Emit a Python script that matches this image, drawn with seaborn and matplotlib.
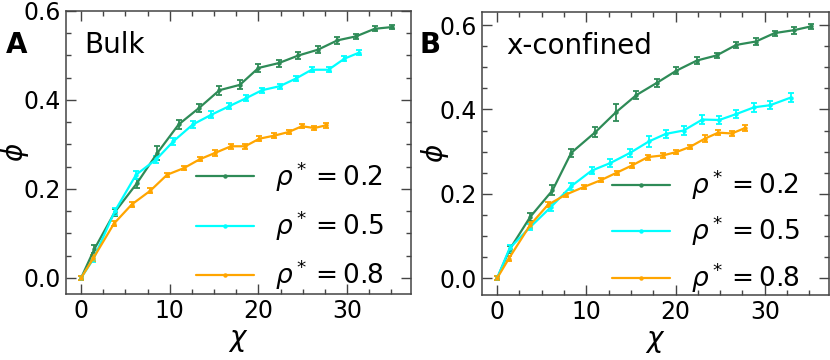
import matplotlib
matplotlib.use("Agg")
import matplotlib.pyplot as plt
import seaborn as sns
import numpy as np
import pandas as pd
from matplotlib.ticker import MultipleLocator, FormatStrFormatter

# ---------------- data ----------------
labels = [r"$\rho^*=0.2$", r"$\rho^*=0.5$", r"$\rho^*=0.8$"]
colors = ["#2e8b57", "#00ffff", "#ffa500"]

# Bulk (panel A)
bulk_x_02 = [0, 1.5, 3.8, 6.3, 8.6, 11.0, 13.3, 15.6, 17.9, 20.0, 22.3, 24.5, 26.7, 28.9, 31.0, 33.1, 35.1]
bulk_y_02 = [0.0, 0.065, 0.148, 0.213, 0.281, 0.345, 0.382, 0.422, 0.434, 0.472, 0.483, 0.500, 0.513, 0.534, 0.543, 0.560, 0.564]
bulk_e_02 = [0.005, 0.008, 0.008, 0.010, 0.016, 0.010, 0.010, 0.010, 0.010, 0.008, 0.008, 0.008, 0.008, 0.008, 0.006, 0.006, 0.004]

bulk_x_05 = [0, 1.4, 3.8, 6.2, 8.5, 10.4, 12.6, 14.7, 16.7, 18.6, 20.4, 22.4, 24.2, 26.0, 27.9, 29.7, 31.3]
bulk_y_05 = [0.0, 0.043, 0.150, 0.232, 0.267, 0.307, 0.345, 0.367, 0.386, 0.404, 0.422, 0.431, 0.448, 0.468, 0.468, 0.493, 0.506]
bulk_e_05 = [0.005, 0.007, 0.008, 0.009, 0.008, 0.008, 0.008, 0.008, 0.007, 0.007, 0.006, 0.006, 0.006, 0.006, 0.006, 0.006, 0.006]

bulk_x_08 = [0, 1.4, 3.7, 5.7, 7.8, 9.7, 11.6, 13.4, 15.1, 16.9, 18.5, 20.1, 21.8, 23.4, 24.9, 26.3, 27.6]
bulk_y_08 = [0.0, 0.045, 0.122, 0.165, 0.196, 0.232, 0.247, 0.267, 0.281, 0.296, 0.296, 0.313, 0.320, 0.328, 0.341, 0.337, 0.343]
bulk_e_08 = [0.005, 0.006, 0.006, 0.006, 0.006, 0.005, 0.005, 0.005, 0.006, 0.006, 0.006, 0.005, 0.005, 0.005, 0.005, 0.005, 0.005]

# x-confined (panel B)
conf_x_02 = [0, 1.4, 3.7, 6.2, 8.3, 11.0, 13.3, 15.6, 17.9, 20.1, 22.4, 24.6, 26.8, 29.0, 31.1, 33.3, 35.2]
conf_y_02 = [0.0, 0.068, 0.145, 0.208, 0.297, 0.346, 0.393, 0.434, 0.463, 0.492, 0.516, 0.528, 0.553, 0.561, 0.581, 0.588, 0.597]
conf_e_02 = [0.005, 0.008, 0.010, 0.012, 0.010, 0.012, 0.020, 0.010, 0.010, 0.008, 0.008, 0.006, 0.008, 0.008, 0.006, 0.008, 0.006]

conf_x_05 = [0, 1.4, 3.7, 6.0, 8.3, 10.6, 12.7, 14.9, 17.0, 18.9, 20.9, 23.0, 24.9, 26.8, 28.8, 30.6, 32.9]
conf_y_05 = [0.0, 0.071, 0.121, 0.168, 0.218, 0.255, 0.273, 0.297, 0.324, 0.342, 0.350, 0.376, 0.375, 0.389, 0.405, 0.410, 0.428]
conf_e_05 = [0.005, 0.008, 0.008, 0.010, 0.008, 0.008, 0.010, 0.010, 0.012, 0.010, 0.010, 0.010, 0.010, 0.010, 0.010, 0.010, 0.010]

conf_x_08 = [0, 1.3, 3.7, 5.7, 7.7, 9.7, 11.6, 13.4, 15.1, 16.9, 18.6, 20.1, 21.6, 23.3, 24.8, 26.3, 27.8]
conf_y_08 = [0.0, 0.046, 0.126, 0.174, 0.198, 0.216, 0.232, 0.250, 0.267, 0.287, 0.291, 0.299, 0.311, 0.331, 0.345, 0.343, 0.356]
conf_e_08 = [0.005, 0.006, 0.006, 0.006, 0.005, 0.005, 0.005, 0.005, 0.005, 0.006, 0.006, 0.005, 0.005, 0.008, 0.006, 0.006, 0.006]

panels = [
    dict(letter="A", title="Bulk", ylim=(-0.036, 0.6), title_x=0.052,
         ylab_x=-0.102, leg_anchor=(0.96, -0.04), leg_spacing=0.56,
         series=[(bulk_x_02, bulk_y_02, bulk_e_02),
                 (bulk_x_05, bulk_y_05, bulk_e_05),
                 (bulk_x_08, bulk_y_08, bulk_e_08)]),
    dict(letter="B", title="x-confined", ylim=(-0.040, 0.631), title_x=0.069,
         ylab_x=-0.090, leg_anchor=(0.955, -0.047), leg_spacing=0.46,
         series=[(conf_x_02, conf_y_02, conf_e_02),
                 (conf_x_05, conf_y_05, conf_e_05),
                 (conf_x_08, conf_y_08, conf_e_08)]),
]

# ---------------- style ----------------
sns.set_theme(style="ticks")
plt.rcParams["font.family"] = ["DejaVu Sans"]
plt.rcParams["mathtext.fontset"] = "dejavusans"
plt.rcParams["text.color"] = "black"
plt.rcParams["axes.labelcolor"] = "black"
plt.rcParams["xtick.labelcolor"] = "black"
plt.rcParams["ytick.labelcolor"] = "black"
spine_c = "#444444"

fig = plt.figure(figsize=(8.3, 3.6), dpi=100)
axes_pos = [
    [66 / 830, 1 - 294 / 360, 345 / 830, 283 / 360],
    [482 / 830, 1 - 295 / 360, 347 / 830, 283 / 360],
]

for pos, p in zip(axes_pos, panels):
    ax = fig.add_axes(pos)
    for (x, y, e), lab, c in zip(p["series"], labels, colors):
        df = pd.DataFrame({"chi": x, "phi": y})
        sns.lineplot(data=df, x="chi", y="phi", ax=ax, color=c, lw=1.6,
                     marker="o", markersize=3.2, markeredgewidth=0,
                     label=lab, zorder=3)
        ax.errorbar(x, y, yerr=e, fmt="none", ecolor=c, elinewidth=1.3,
                    capsize=2.2, capthick=1.3, zorder=2)

    ax.set_xlim(-1.7, 37.2)
    ax.set_ylim(*p["ylim"])
    ax.xaxis.set_major_locator(MultipleLocator(10))
    ax.xaxis.set_minor_locator(MultipleLocator(2.5))
    ax.yaxis.set_major_locator(MultipleLocator(0.2))
    ax.yaxis.set_minor_locator(MultipleLocator(0.05))
    ax.yaxis.set_major_formatter(FormatStrFormatter("%.1f"))
    ax.tick_params(which="both", direction="in", top=True, right=True,
                   color=spine_c, labelsize=17, pad=3.5, labelcolor="black")
    ax.tick_params(which="major", length=7, width=1)
    ax.tick_params(which="minor", length=3.8, width=1)
    for s in ax.spines.values():
        s.set_color(spine_c)
        s.set_linewidth(1.1)

    ax.set_xlabel(r"$\chi$", fontsize=20, labelpad=2, color="black")
    ax.set_ylabel(r"$\phi$", fontsize=20, color="black")
    ax.yaxis.set_label_coords(p["ylab_x"], 0.5)

    ax.text(p["title_x"], 0.853, p["title"], transform=ax.transAxes,
            fontsize=20, ha="left", va="baseline", color="black")

    leg = ax.legend(loc="lower right", frameon=False, fontsize=19,
                    handlelength=2.2, handletextpad=0.8,
                    labelspacing=p["leg_spacing"],
                    borderaxespad=0.1, bbox_to_anchor=p["leg_anchor"])
    for t in leg.get_texts():
        t.set_color("black")

fig.text(6 / 830, 1 - 45 / 360, "A", fontsize=20, fontweight="bold",
         ha="left", va="center", color="black")
fig.text(420 / 830, 1 - 45 / 360, "B", fontsize=20, fontweight="bold",
         ha="left", va="center", color="black")

fig.savefig("out.png", dpi=100)
